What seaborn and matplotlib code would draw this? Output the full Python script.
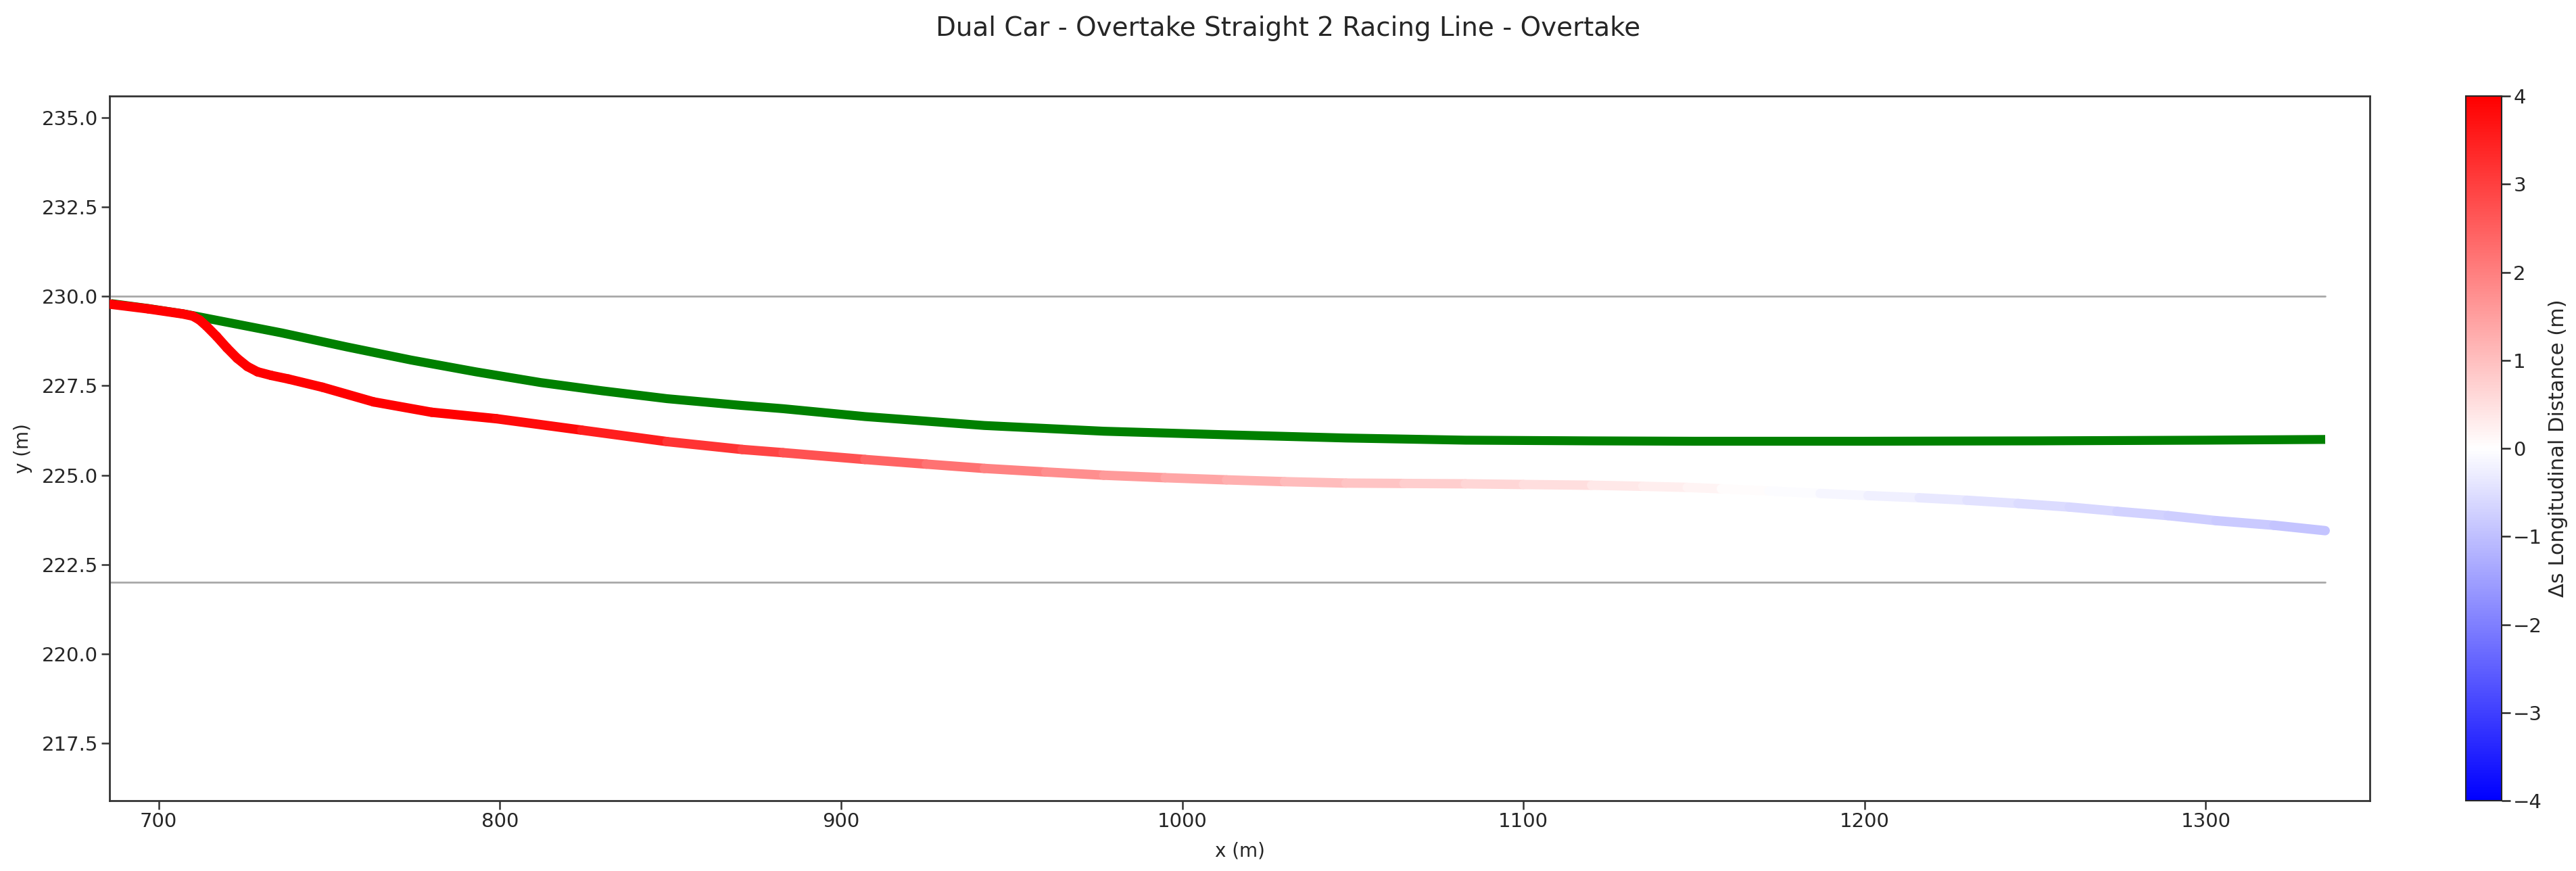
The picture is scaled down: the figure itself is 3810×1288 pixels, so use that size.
import numpy as np
import pandas as pd
import matplotlib
matplotlib.use("Agg")
import matplotlib.pyplot as plt
import seaborn as sns
from matplotlib.collections import LineCollection
from matplotlib.colors import Normalize
from matplotlib.cm import ScalarMappable

# ---------------- data ----------------
title = "Dual Car - Overtake Straight 2 Racing Line - Overtake"

# Car 2 (green) racing line
green_x = [686, 697, 708, 722, 736, 755, 774, 793, 812, 830, 849, 871, 883, 907,
           942, 977, 1013, 1048, 1083, 1120, 1150, 1200, 1250, 1300, 1335]
green_y = [229.80, 229.66, 229.50, 229.24, 228.98, 228.59, 228.22, 227.89, 227.59,
           227.36, 227.14, 226.95, 226.86, 226.64, 226.39, 226.23, 226.13, 226.04,
           225.98, 225.96, 225.95, 225.95, 225.96, 225.98, 226.00]

# Car 1 racing line, coloured by longitudinal gap
car_x = [686, 697, 707, 710, 712, 714, 717, 720, 723, 726, 729, 733, 738, 748, 763,
         780, 799, 824, 849, 871, 883, 907, 925, 942, 960, 977, 995, 1013, 1030,
         1048, 1065, 1083, 1100, 1120, 1135, 1148, 1158, 1172, 1187, 1201, 1216,
         1230, 1245, 1260, 1274, 1289, 1303, 1320, 1335]
car_y = [229.78, 229.65, 229.51, 229.45, 229.34, 229.17, 228.88, 228.56, 228.27,
         228.04, 227.89, 227.79, 227.69, 227.46, 227.05, 226.76, 226.58, 226.26,
         225.94, 225.72, 225.63, 225.44, 225.31, 225.19, 225.09, 225.00, 224.93,
         224.87, 224.82, 224.78, 224.77, 224.76, 224.74, 224.72, 224.69, 224.66,
         224.62, 224.56, 224.49, 224.43, 224.37, 224.30, 224.21, 224.11, 223.99,
         223.87, 223.73, 223.60, 223.45]
car_ds = [4.5, 4.5, 4.5, 4.5, 4.5, 4.5, 4.5, 4.5, 4.5, 4.5, 4.5, 4.45, 4.4, 4.3,
          4.2, 4.1, 3.95, 3.7, 3.35, 3.0, 2.85, 2.55, 2.3, 2.08, 1.85, 1.66, 1.47,
          1.3, 1.14, 0.98, 0.84, 0.72, 0.58, 0.43, 0.31, 0.22, 0.12, 0.0, -0.1, -0.2,
          -0.3, -0.4, -0.5, -0.58, -0.65, -0.73, -0.8, -0.88, -0.95]

track_bounds = [230.0, 222.0]
cbar_ticks = [-4, -3, -2, -1, 0, 1, 2, 3, 4]

# ---------------- figure ----------------
sns.set_style("ticks")
plt.rcParams["font.family"] = ["DejaVu Sans"]

fig = plt.figure(figsize=(38.10, 12.88), dpi=100)
ax = fig.add_axes([0.04265, 0.0807, 0.8772, 0.809])
cax = fig.add_axes([0.9572, 0.0807, 0.0139, 0.809])

# track boundaries
for yb in track_bounds:
    ax.plot([min(green_x), max(green_x)], [yb, yb], color="#a8a8a8", lw=2.0, zorder=1)

# green car line
df_g = pd.DataFrame({"x": green_x, "y": green_y})
sns.lineplot(data=df_g, x="x", y="y", ax=ax, color="#008000", lw=9.5,
             sort=False, estimator=None, zorder=2, solid_capstyle="butt")

# coloured car line
pts = np.column_stack([car_x, car_y]).reshape(-1, 1, 2)
segs = np.concatenate([pts[:-1], pts[1:]], axis=1)
seg_vals = (np.array(car_ds[:-1]) + np.array(car_ds[1:])) / 2.0
norm = Normalize(vmin=-4, vmax=4)
lc = LineCollection(segs, cmap="bwr", norm=norm, linewidths=10, capstyle="round", zorder=3)
lc.set_array(seg_vals)
ax.add_collection(lc)

ax.set_xlim(685.7, 1348)
ax.set_ylim(215.9, 235.6)
ax.set_xticks([700, 800, 900, 1000, 1100, 1200, 1300])
yt = [217.5, 220.0, 222.5, 225.0, 227.5, 230.0, 232.5, 235.0]
ax.set_yticks(yt)
ax.set_yticklabels([f"{v:.1f}" for v in yt])
ax.set_xlabel("x (m)", fontsize=20, labelpad=11)
ax.set_ylabel("y (m)", fontsize=20, labelpad=10)
ax.tick_params(axis="both", labelsize=21, length=9, width=1.8, color="#333333")
for s in ax.spines.values():
    s.set_linewidth(2.0)
    s.set_color("#333333")

sm = ScalarMappable(norm=norm, cmap="bwr")
cb = fig.colorbar(sm, cax=cax, ticks=cbar_ticks)
cb.set_label("Δs Longitudinal Distance (m)", fontsize=22, labelpad=6)
cb.ax.tick_params(labelsize=21, length=9, width=1.8)
cb.outline.set_linewidth(1.5)

fig.suptitle(title, fontsize=28, y=0.982)

fig.savefig("out.png", dpi=100)
